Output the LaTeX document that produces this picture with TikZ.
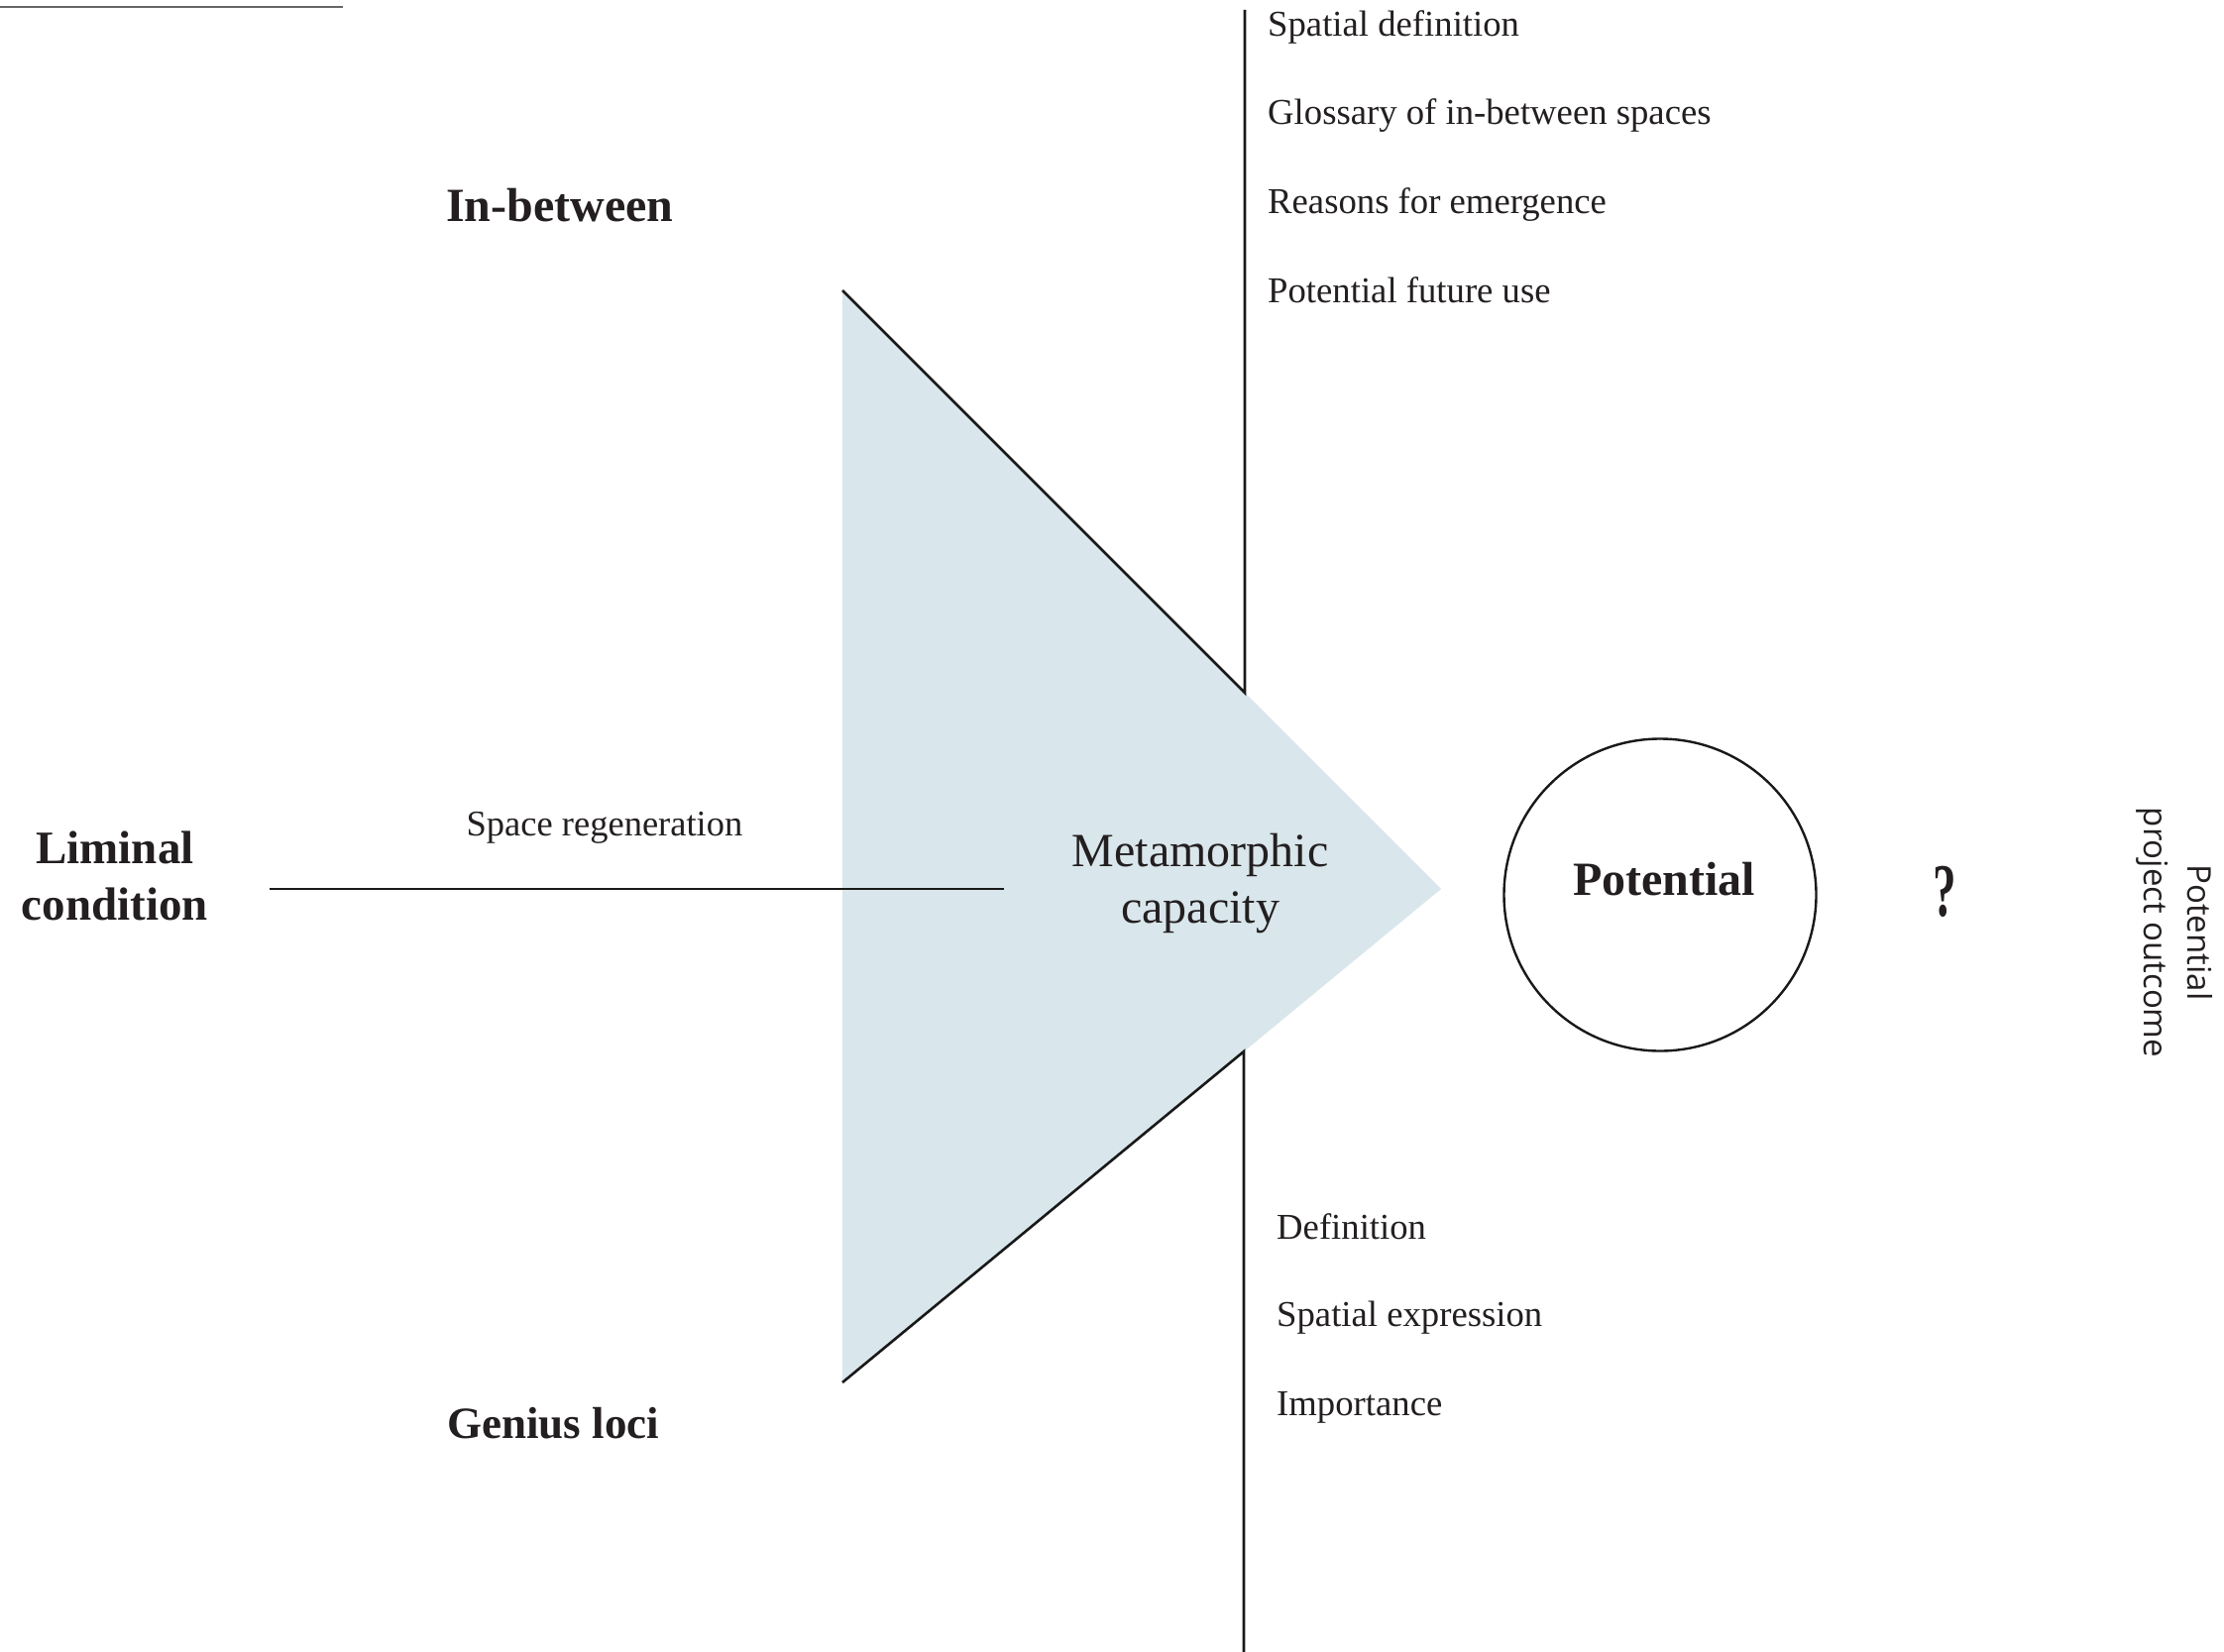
\documentclass[tikz,border=0pt]{standalone}
\usepackage{fontspec}
\setmainfont{Liberation Serif}
\newfontfamily\outsans{Open Sans}
\definecolor{inkc}{RGB}{35,31,32}
\definecolor{linec}{RGB}{25,25,25}
\definecolor{trifill}{RGB}{217,230,235}
\begin{document}
\begin{tikzpicture}[x=1pt,y=-1pt,
  txt/.style={text=inkc, inner sep=0pt},
  listitem/.style={txt, anchor=base west, font=\fontsize{36.7}{40}\selectfont},
  heading/.style={txt, font=\fontsize{47}{57}\selectfont\bfseries},
  ln/.style={draw=linec, line width=2.6pt},
  thinln/.style={draw=gray!80!black, line width=2pt}]
\fill[white] (0,0) rectangle (2244,1667);
\path[use as bounding box] (0,0) rectangle (2244,1667);
% coordinates
\coordinate (tA) at (850,293);
\coordinate (tTip) at (1454,897);
\coordinate (tB) at (850,1395);
\coordinate (uBend) at (1256,699);
\coordinate (uTop) at (1256,10);
\coordinate (lBend) at (1255,1061);
\coordinate (lBot) at (1255,1667);
\coordinate (hL) at (272,897);
\coordinate (hR) at (1013,897);
\coordinate (rL) at (0,7);
\coordinate (rR) at (346,7);
% triangle
\fill[trifill] (tA) -- (tTip) -- (tB) -- cycle;
\draw[ln] (tA) -- (uBend) -- (uTop);
\draw[ln] (tB) -- (lBend) -- (lBot);
\draw[ln] (hL) -- (hR);
\draw[thinln] (rL) -- (rR);
% circle
\node[circle, draw=linec, line width=2.4pt, minimum size=315pt, inner sep=0pt] (pot) at (1675,903) {};
\node[txt, anchor=base, font=\fontsize{48}{57}\selectfont\bfseries] (potlabel) at (1679,903) {Potential};
% headings
\node[heading, anchor=base west, font=\fontsize{48}{57}\selectfont\bfseries] (inbetween) at (450,223) {In-between};
\node[heading, anchor=base west, font=\fontsize{45}{57}\selectfont\bfseries] (genius) at (451,1451) {Genius loci};
\node[heading, anchor=base] (liminal1) at (116,871) {Liminal};
\node[heading, anchor=base] (liminal2) at (116,928) {condition};
% middle texts
\node[txt, anchor=base, font=\fontsize{36.5}{40}\selectfont] (regen) at (610,843) {Space regeneration};
\node[txt, anchor=base, font=\fontsize{48}{57}\selectfont] (meta1) at (1211,874) {Metamorphic};
\node[txt, anchor=base, font=\fontsize{48}{57}\selectfont] (meta2) at (1211,931) {capacity};
% question mark
\node[txt, anchor=base, font=\fontsize{76}{80}\selectfont\bfseries] (qm) at (1962,924) {\scalebox{0.62}[1]{?}};
% rotated label
\node[txt, rotate=-90, align=center, font=\outsans\fontsize{33}{44}\selectfont] (outcome) at (2194,941) {Potential\\project outcome};
% lists
\node[listitem] (l1) at (1279,37) {Spatial definition};
\node[listitem] (l2) at (1279,126) {Glossary of in-between spaces};
\node[listitem] (l3) at (1279,215) {Reasons for emergence};
\node[listitem] (l4) at (1279,305) {Potential future use};
\node[listitem] (b1) at (1288,1250) {Definition};
\node[listitem] (b2) at (1288,1338) {Spatial expression};
\node[listitem] (b3) at (1288,1428) {Importance};
\end{tikzpicture}
\end{document}
